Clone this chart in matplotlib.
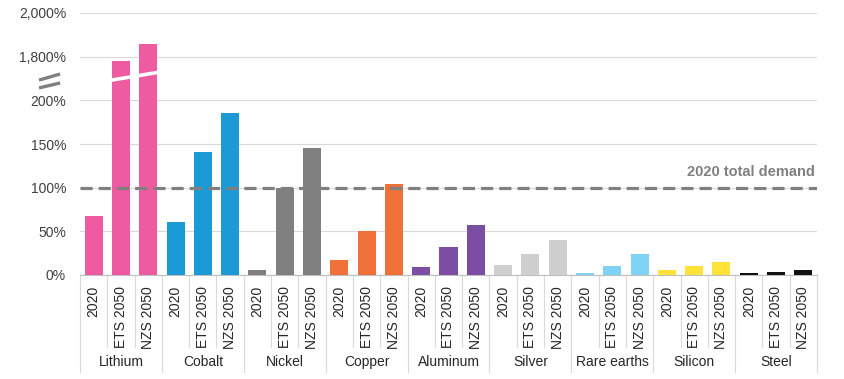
import numpy as np
import matplotlib
matplotlib.use("Agg")
import matplotlib.pyplot as plt
import matplotlib.transforms as mtransforms
from matplotlib.ticker import FuncFormatter

plt.rcParams['font.family'] = ['Liberation Sans', 'DejaVu Sans']

# data (% of 2020 total demand)
minerals = ['Lithium', 'Cobalt', 'Nickel', 'Copper', 'Aluminum',
            'Silver', 'Rare earths', 'Silicon', 'Steel']
cases = ['2020', 'ETS 2050', 'NZS 2050']
v2020 = [68, 61, 6, 17.5, 9, 11.5, 2, 6, 2.3]
ets2050 = [1778, 141, 100, 50.5, 32.5, 24, 10, 10, 3.4]
nzs2050 = [1856, 186, 145, 104.5, 57, 40, 24, 15, 6]
colors = ['#EF5BA1', '#1B9AD6', '#808080', '#F07039', '#7B4EA3',
          '#CFCFCF', '#7FD3F7', '#FFE33B', '#111111']
yticks = [0, 50, 100, 150, 200, 1800, 2000]


# broken y axis: 0-200 linear, 200-1700 squeezed, 1700-2000 at 1/4 scale
def fwd(v):
    v = np.asarray(v, dtype=float)
    return np.where(v <= 200, v,
                    np.where(v >= 1700, 250 + (v - 1800) / 4, 200 + (v - 200) / 60))


def inv(u):
    u = np.asarray(u, dtype=float)
    return np.where(u <= 200, u,
                    np.where(u >= 225, 1800 + (u - 250) * 4, 200 + (u - 200) * 60))


fig = plt.figure(figsize=(8.44, 3.79), dpi=100)
ax = fig.add_axes([80 / 844, 104 / 379, 737 / 844, 262 / 379])
ax.set_yscale('function', functions=(fwd, inv))

vals = np.array([v2020, ets2050, nzs2050]).T  # (mineral, case)
for g, m in enumerate(minerals):
    x = 3 * g + np.arange(3)
    ax.bar(x, vals[g], width=0.66, color=colors[g], zorder=3)

ax.set_xlim(-0.5, 3 * len(minerals) - 0.5)
ax.set_ylim(0, 2000)
ax.set_yticks(yticks)
ax.yaxis.set_major_formatter(FuncFormatter(lambda v, p: '{:,.0f}%'.format(v)))
ax.tick_params(axis='y', length=0, pad=10, labelsize=10, labelcolor='#404040')
ax.yaxis.grid(True, color='#D9D9D9', lw=0.8, zorder=0)

ax.set_xticks(np.arange(3 * len(minerals)))
ax.set_xticklabels(cases * len(minerals), rotation=90, fontsize=10, color='#262626')
ax.tick_params(axis='x', length=0, pad=8)

for s in ['top', 'right', 'left']:
    ax.spines[s].set_visible(False)
ax.spines['bottom'].set_color('#BFBFBF')

# 2020 total demand line
ax.axhline(100, color='#808080', lw=2.3, ls=(0, (3.8, 1.9)), zorder=4)
ax.text(0.997, 0.393, '2020 total demand', transform=ax.transAxes,
        ha='right', va='center', fontsize=10.5, fontweight='bold', color='#808080')

# category separators and labels under the axis
trans = mtransforms.blended_transform_factory(ax.transData, ax.transAxes)
for g in range(len(minerals) + 1):
    ax.plot([3 * g - 0.5] * 2, [0, -0.37], transform=trans, color='#D9D9D9',
            lw=0.8, clip_on=False)
for g, m in enumerate(minerals):
    for k in (0.5, 1.5):
        ax.plot([3 * g + k] * 2, [0, -0.275], transform=trans, color='#D9D9D9',
                lw=0.8, clip_on=False)
    ax.text(3 * g + 1, -0.333, m, transform=trans, ha='center', va='center',
            fontsize=10, color='#262626')

# white break through the tall lithium bars
ax.plot([0.55, 2.45], [0.742, 0.775], transform=trans, color='white',
        lw=2.6, zorder=5, solid_capstyle='butt')

# break mark on the y axis
for y0, y1 in [(0.744, 0.767), (0.714, 0.733)]:
    ax.plot([-0.0556, -0.027], [y0, y1], transform=ax.transAxes, color='#808080',
            lw=2.4, clip_on=False, solid_capstyle='butt')

fig.savefig('out.png', dpi=100)
